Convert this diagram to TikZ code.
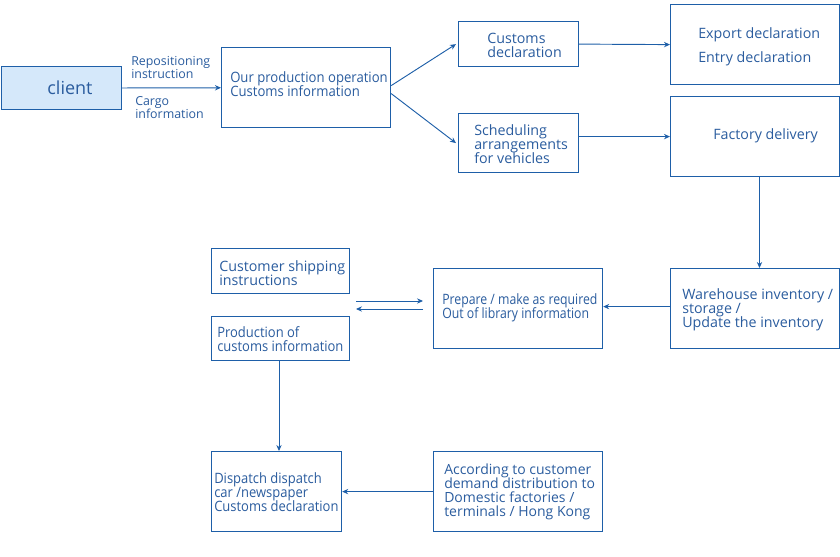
\documentclass[tikz,border=0pt]{standalone}
\usepackage{fontspec}
\setmainfont{Open Sans}
\newfontfamily\condA[FakeStretch=0.86]{Open Sans}
\newfontfamily\condB[FakeStretch=0.91]{Open Sans}
\newfontfamily\condC[FakeStretch=0.92]{Open Sans}
\usetikzlibrary{arrows.meta}
\definecolor{ln}{HTML}{1E5FA8}
\definecolor{tx}{HTML}{2A5C9E}
\definecolor{cf}{HTML}{D5E8FA}
\newcommand\myls{\lineskiplimit=-10pt\relax}
\begin{document}
\begin{tikzpicture}[x=0.75pt,y=-0.75pt,
 box/.style 2 args={draw=ln, line width=0.9pt, inner sep=0pt, anchor=north west,
   minimum width=#1*0.75pt, minimum height=#2*0.75pt},
 txt/.style={text=tx, anchor=west, align=left, inner sep=0pt, font={\fontsize{10.7}{10.5}\selectfont\myls}},
 small/.style={text=tx, anchor=west, align=left, inner sep=0pt, font={\fontsize{9.3}{9.8}\selectfont\myls}},
 arr/.style={draw=ln, line width=0.7pt, -{Stealth[length=4.5pt,width=4pt]}}]
\useasboundingbox (0,0) rectangle (840,557);
% boxes
\node[box={120}{43}, fill=cf] (client) at (0.6,66) {};
\node[box={169}{80}] (prod) at (221,47) {};
\node[box={120}{45}] (cust) at (458,21) {};
\node[box={120}{59}] (sched) at (458,113) {};
\node[box={169}{80}] (exp) at (670,4) {};
\node[box={169}{80}] (fact) at (670,96) {};
\node[box={169}{80}] (ware) at (670,268) {};
\node[box={169}{80}] (prep) at (433,268) {};
\node[box={138}{45}] (ship) at (211,248) {};
\node[box={138}{44}] (pcus) at (211,316) {};
\node[box={130}{80}] (disp) at (211,451) {};
\node[box={169}{80}] (acc) at (433,451) {};
% texts
\node[text=tx, inner sep=0pt, font=\fontsize{13.5}{14}\selectfont] (tclient) at (70,88) {client};
\node[txt, font={\condC\fontsize{10.7}{10.5}\selectfont\myls}] (tprod) at (230,84) {Our production operation\\Customs information};
\node[txt] (tcust) at (487,45) {Customs\\declaration};
\node[txt] (tsched) at (474,144) {Scheduling\\arrangements\\for vehicles};
\node[txt, font={\fontsize{10.7}{18}\selectfont}] (texp) at (698,47) {Export declaration\\Entry declaration};
\node[txt] (tfact) at (713,136) {Factory delivery};
\node[txt] (tware) at (682,310) {Warehouse inventory /\\storage /\\Update the inventory};
\node[txt, font={\condA\fontsize{10.7}{10.5}\selectfont\myls}] (tprep) at (442,308) {Prepare / make as required\\Out of library information};
\node[txt] (tship) at (219,273) {Customer shipping\\instructions};
\node[txt, font={\condB\fontsize{10.7}{10.5}\selectfont\myls}] (tpcus) at (217,339) {Production of\\customs information};
\node[txt, font={\condB\fontsize{10.7}{10.5}\selectfont\myls}] (tdisp) at (214,492) {Dispatch dispatch\\car /newspaper\\Customs declaration};
\node[txt, font={\fontsize{10.5}{10.5}\selectfont\myls}] (tacc) at (444,492) {According to customer\\demand distribution to\\Domestic factories /\\terminals / Hong Kong};
\node[small] (lrep) at (131,67.5) {Repositioning\\instruction};
\node[small] (lcar) at (135,107.5) {Cargo\\information};
% free ends
\coordinate (a1) at (356,301);
\coordinate (a2) at (423,301);
\coordinate (b1) at (423,309);
\coordinate (b2) at (356,309);
% connectors
\draw[arr] (client) -- (prod);
\draw[arr] ([yshift=1.5pt]prod.east) -- ([xshift=-1.5pt]cust.west);
\draw[arr] ([yshift=-4.5pt]prod.east) -- ([xshift=-1.5pt]sched.west);
\draw[arr] (cust.east) -- (exp.west);
\draw[arr] (sched.east |- fact.west) -- (fact.west);
\draw[arr] ([xshift=3.3pt]fact.south) -- ([xshift=3.3pt]ware.north);
\draw[arr] ([yshift=1.5pt]ware.west) -- ([yshift=1.5pt]prep.east);
\draw[arr] (a1) -- (a2);
\draw[arr] (b1) -- (b2);
\draw[arr] (pcus.south -| 279,0) -- (disp.north -| 279,0);
\draw[arr] (acc.west) -- (disp.east);
\end{tikzpicture}
\end{document}
